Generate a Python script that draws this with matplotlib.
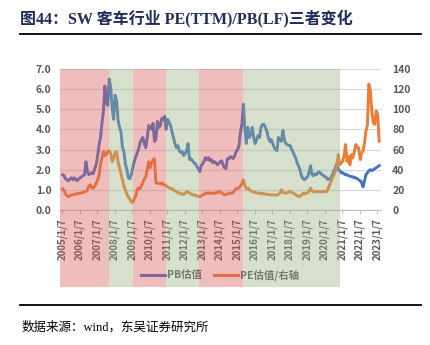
import numpy as np
import pandas as pd
import matplotlib
matplotlib.use("Agg")
import matplotlib.pyplot as plt
import matplotlib.dates as mdates
from matplotlib.lines import Line2D

plt.rcParams['font.family'] = ['Noto Sans CJK SC', 'DejaVu Sans']

# monthly PB (left axis), Jan 2005 - Feb 2023
pb = [
    1.75, 1.70, 1.55, 1.50, 1.45, 1.55, 1.60, 1.50, 1.60, 1.50, 1.45, 1.55,  # 2005
    1.60, 1.65, 1.70, 1.75, 2.40, 1.90, 1.75, 1.80, 1.85, 1.80, 2.05, 2.25,  # 2006
    2.70, 3.25, 3.60, 4.30, 4.90, 6.15, 5.30, 5.20, 6.50, 6.10, 5.00, 4.50,  # 2007
    5.70, 5.40, 4.50, 4.10, 3.90, 3.10, 2.90, 2.30, 2.00, 1.60, 1.55, 1.75,  # 2008
    2.10, 2.40, 2.60, 2.80, 3.00, 3.30, 3.50, 3.60, 3.30, 3.10, 3.60, 4.20,  # 2009
    4.10, 4.00, 4.30, 3.40, 3.50, 4.40, 4.10, 4.20, 4.55, 4.50, 4.65, 4.00,  # 2010
    4.50, 4.35, 4.20, 3.90, 3.60, 3.30, 3.10, 3.20, 2.95, 2.85, 2.90, 2.70,  # 2011
    2.80, 2.95, 3.30, 2.50, 2.55, 2.45, 2.35, 2.30, 2.15, 2.05, 1.90, 2.20,  # 2012
    2.30, 2.45, 2.60, 2.50, 2.60, 2.45, 2.50, 2.35, 2.40, 2.35, 2.25, 2.30,  # 2013
    2.40, 2.45, 2.25, 2.10, 2.05, 2.55, 2.55, 2.65, 2.60, 2.55, 2.70, 2.90,  # 2014
    3.00, 3.25, 3.90, 4.30, 5.25, 4.00, 3.30, 4.10, 3.60, 3.75, 4.10, 3.60,  # 2015
    3.30, 3.50, 3.70, 3.60, 4.10, 4.25, 4.25, 4.10, 3.90, 3.60, 3.40, 3.50,  # 2016
    3.30, 3.10, 3.00, 2.95, 3.60, 3.50, 3.40, 3.95, 3.50, 3.30, 3.25, 3.20,  # 2017
    3.20, 3.00, 2.90, 2.70, 2.55, 2.30, 2.15, 1.90, 1.65, 1.55, 1.50, 1.60,  # 2018
    1.65, 1.90, 2.20, 1.75, 1.70, 1.80, 1.75, 1.85, 1.90, 1.80, 1.75, 1.70,  # 2019
    1.65, 1.60, 1.50, 1.55, 1.60, 1.75, 1.95, 2.10, 2.30, 2.00, 1.95, 1.85,  # 2020
    1.85, 1.80, 1.75, 1.75, 1.70, 1.68, 1.65, 1.65, 1.60, 1.60, 1.55, 1.50,  # 2021
    1.45, 1.35, 1.15, 1.45, 1.75, 1.85, 1.95, 2.00, 1.95, 2.00, 2.05, 2.10,  # 2022
    2.15, 2.20,                                                              # 2023
]

# monthly PE (right axis)
pe = [
    21.0, 19.0, 16.0, 14.0, 13.0, 14.0, 15.0, 15.0, 15.5, 16.0, 16.0, 16.5,  # 2005
    16.7, 17.0, 17.5, 18.0, 18.3, 20.0, 24.0, 25.0, 22.0, 21.7, 23.5, 26.7,  # 2006
    30.0, 35.0, 45.0, 52.0, 58.0, 54.0, 55.0, 58.0, 59.0, 56.0, 48.0, 51.0,  # 2007
    57.0, 58.0, 48.0, 42.0, 36.0, 30.0, 24.0, 20.0, 16.0, 13.0, 11.0, 8.0,   # 2008
    7.5, 11.0, 13.5, 20.0, 22.0, 21.0, 24.0, 27.0, 31.0, 33.0, 40.0, 48.0,   # 2009
    42.0, 47.0, 50.0, 51.0, 27.0, 26.7, 26.5, 26.0, 27.0, 25.0, 25.0, 24.0,  # 2010
    23.0, 22.0, 21.7, 21.0, 20.0, 19.0, 18.3, 17.5, 16.7, 16.0, 16.0, 15.5,  # 2011
    16.5, 18.3, 17.5, 16.7, 16.0, 15.0, 15.0, 14.5, 14.0, 13.5, 13.3, 14.0,  # 2012
    15.0, 15.5, 16.7, 16.5, 17.0, 16.7, 16.7, 16.5, 16.5, 17.0, 17.0, 18.3,  # 2013
    18.0, 17.0, 16.0, 15.0, 15.5, 16.0, 16.5, 16.7, 16.7, 17.5, 20.0, 21.0,  # 2014
    21.7, 22.0, 24.0, 26.0, 30.0, 24.0, 21.0, 22.0, 20.0, 19.0, 18.3, 18.0,  # 2015
    17.5, 17.0, 16.7, 16.7, 16.0, 16.5, 16.0, 16.0, 15.5, 15.5, 15.0, 15.0,  # 2016
    15.0, 15.0, 15.0, 15.0, 15.5, 17.0, 20.0, 18.0, 16.7, 16.7, 17.0, 18.0,  # 2017
    18.3, 17.5, 16.7, 16.0, 15.0, 14.0, 13.3, 14.0, 15.0, 16.7, 16.0, 16.5,  # 2018
    17.0, 19.0, 21.7, 19.0, 18.3, 18.0, 18.3, 18.3, 18.0, 18.3, 18.0, 18.3,  # 2019
    18.3, 18.3, 21.0, 25.0, 28.0, 31.7, 35.0, 38.3, 45.0, 55.0, 45.0, 47.0,  # 2020
    48.3, 55.0, 65.0, 48.3, 53.3, 45.0, 55.0, 51.7, 58.0, 65.0, 62.0, 61.7,  # 2021
    50.0, 56.7, 58.0, 66.7, 78.3, 85.0, 125.0, 118.0, 98.3, 86.7, 85.0, 98.3,  # 2022
    95.0, 68.3,                                                              # 2023
]

months = pd.date_range('2005-01-01', periods=len(pb), freq='MS') + pd.Timedelta(days=14)
x = mdates.date2num(months.to_pydatetime())

tick_years = list(range(2005, 2024))
tick_labels = [f'{y}/1/7' for y in tick_years]

# shaded regimes (start, end, kind)
band_edges = ['2004-11-20', '2007-09-01', '2009-01-15', '2010-12-05',
              '2012-11-05', '2015-05-01', '2020-11-15']
band_kind = ['r', 'g', 'r', 'g', 'r', 'g']

fig = plt.figure(figsize=(4.31, 3.45), dpi=100)
W, H = 431, 345
ax = fig.add_axes([60 / W, (H - 210) / H, (381 - 60) / W, 141 / H])
ax2 = ax.twinx()

gray = '#595959'
ax.plot(x, pb, color='#4472C4', lw=2.1, solid_joinstyle='round')
ax2.plot(x, pe, color='#ED7D31', lw=2.1, solid_joinstyle='round')

ax.set_ylim(0, 7)
ax.set_yticks(np.arange(0, 7.1, 1))
ax.set_yticklabels([f'{v:.1f}' for v in np.arange(0, 7.1, 1)])
ax2.set_ylim(0, 140)
ax2.set_yticks(range(0, 141, 20))
ax.set_xlim(mdates.datestr2num('2004-11-20'), mdates.datestr2num('2023-03-25'))

ax.yaxis.grid(True, color='#D9D9D9', lw=0.9)
ax.set_axisbelow(True)
for a in (ax, ax2):
    for s in a.spines.values():
        s.set_visible(False)
ax.spines['bottom'].set_visible(True)
ax.spines['bottom'].set_color('#BFBFBF')

ticks = [mdates.datestr2num(f'{y}-01-07') for y in tick_years]
ax.set_xticks(ticks)
ax.set_xticklabels(tick_labels, rotation=90, fontsize=7, color=gray, fontweight='bold')
ax.tick_params(axis='x', length=3, color='#BFBFBF', pad=3)
ax.tick_params(axis='y', length=0, labelsize=7.5, labelcolor=gray, pad=6)
ax2.tick_params(axis='y', length=0, labelsize=7.5, labelcolor=gray, pad=8)
for lab in ax.get_yticklabels() + ax2.get_yticklabels():
    lab.set_fontweight('bold')

handles = [Line2D([], [], color='#4472C4', lw=2.2), Line2D([], [], color='#ED7D31', lw=2.2)]
ax.legend(handles, ['PB估值', 'PE估值/右轴'], loc='center', ncol=2, frameon=False,
          bbox_to_anchor=(220 / W, (H - 275) / H), bbox_transform=fig.transFigure,
          prop={'size': 7.5, 'weight': 'bold'}, labelcolor=gray,
          handlelength=2.3, handletextpad=0.2, columnspacing=1.2)

# translucent regime bands, drawn over the lines and down over the labels
colors = {'r': (0.86, 0.36, 0.36), 'g': (0.60, 0.70, 0.51)}
for i, k in enumerate(band_kind):
    ax2.axvspan(mdates.datestr2num(band_edges[i]), mdates.datestr2num(band_edges[i + 1]),
                ymin=-(287 - 210) / 141, ymax=1.0, color=colors[k], alpha=0.4,
                lw=0, zorder=10, clip_on=False)

fig.text(20 / W, 1 - 18 / H, '图44：SW 客车行业 PE(TTM)/PB(LF)三者变化',
         fontsize=11.5, fontweight='bold', color='#1F2D5A', va='center',
         family=['Liberation Serif', 'Noto Sans CJK SC'])
fig.add_artist(Line2D([20 / W, 421 / W], [1 - 34 / H] * 2, color='black', lw=1.3))
fig.add_artist(Line2D([20 / W, 421 / W], [1 - 305 / H] * 2, color='black', lw=1.3))
fig.text(22 / W, 1 - 327 / H, '数据来源：wind，东吴证券研究所', fontsize=9,
         color='black', va='center', family=['Liberation Serif', 'Noto Sans CJK SC'])

fig.savefig('out.png', dpi=100)
